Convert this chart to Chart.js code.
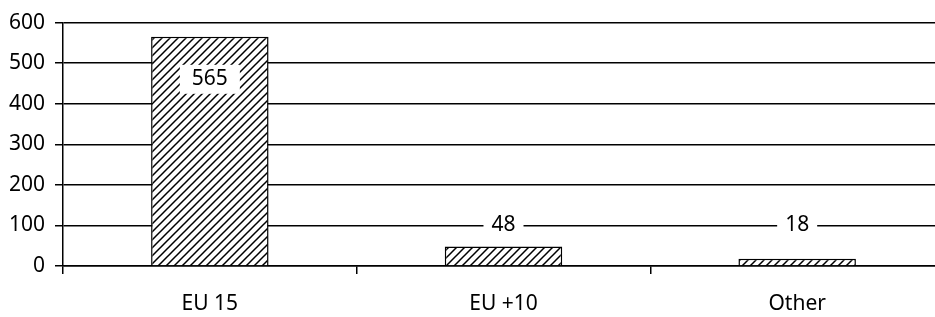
<!DOCTYPE html>
<html>
<head>
<meta charset="utf-8">
<script src="https://cdn.jsdelivr.net/npm/chart.js@4"></script>
<style>
html,body{margin:0;padding:0;background:#fff;overflow:hidden;}
#wrap{width:944px;height:317px;}
</style>
</head>
<body>
<div id="wrap"><canvas id="c" width="944" height="317"></canvas></div>
<script>
const categories = ["EU 15", "EU +10", "Other"];
const values = [565, 48, 18];
const yTicks = [0, 100, 200, 300, 400, 500, 600];

function hatch() {
  const s = 8;
  const p = document.createElement('canvas');
  p.width = s; p.height = s;
  const g = p.getContext('2d');
  g.fillStyle = '#fff'; g.fillRect(0, 0, s, s);
  g.strokeStyle = '#000'; g.lineWidth = 1.5;
  g.beginPath();
  g.moveTo(-1, s + 1); g.lineTo(s + 1, -1);
  g.moveTo(-1 - s, s + 1); g.lineTo(1, -1);
  g.moveTo(s - 1, s + 1); g.lineTo(2 * s + 1, -1);
  g.stroke();
  return document.getElementById('c').getContext('2d').createPattern(p, 'repeat');
}

const FONT = '"Noto Sans", sans-serif';

const labelPlugin = {
  id: 'vlabels',
  afterDatasetsDraw(chart) {
    const ctx = chart.ctx;
    const meta = chart.getDatasetMeta(0);
    const ys = chart.scales.y;
    ctx.save();
    ctx.font = '21px ' + FONT;
    ctx.textAlign = 'center';
    ctx.textBaseline = 'middle';
    meta.data.forEach((bar, i) => {
      const txt = String(values[i]);
      const inside = bar.y + 42 < ys.getPixelForValue(100);
      const y = inside ? bar.y + 42 : ys.getPixelForValue(100);
      const w = ctx.measureText(txt).width + (inside ? 24 : 16);
      ctx.fillStyle = '#fff';
      ctx.fillRect(bar.x - w / 2, y - 14, w, 29);
      ctx.fillStyle = '#000';
      ctx.fillText(txt, bar.x, y);
    });
    ctx.restore();
  }
};

new Chart(document.getElementById('c'), {
  type: 'bar',
  data: {
    labels: categories,
    datasets: [{
      data: values,
      backgroundColor: hatch(),
      borderColor: '#000',
      borderWidth: 1.5,
      barPercentage: 0.4,
      categoryPercentage: 1.0
    }]
  },
  options: {
    responsive: false,
    animation: false,
    layout: { padding: { top: 22, left: 0, right: 0, bottom: 0 } },
    plugins: { legend: { display: false }, tooltip: { enabled: false } },
    scales: {
      x: {
        afterFit(s) { s.height = 51; },
        grid: { drawOnChartArea: false, drawTicks: true, tickLength: 8, color: '#000', lineWidth: 1.5 },
        border: { color: '#000', width: 1.5 },
        ticks: { color: '#000', font: { family: FONT, size: 21 }, padding: 17 }
      },
      y: {
        min: 0, max: 600,
        afterFit(s) { s.width = 63; },
        afterBuildTicks(s) { s.ticks = yTicks.map(v => ({ value: v })); },
        grid: { color: '#000', lineWidth: 1.5, tickLength: 8 },
        border: { color: '#000', width: 1.5 },
        ticks: { color: '#000', font: { family: FONT, size: 21 }, padding: 10 }
      }
    }
  },
  plugins: [labelPlugin]
});
</script>
</body>
</html>
